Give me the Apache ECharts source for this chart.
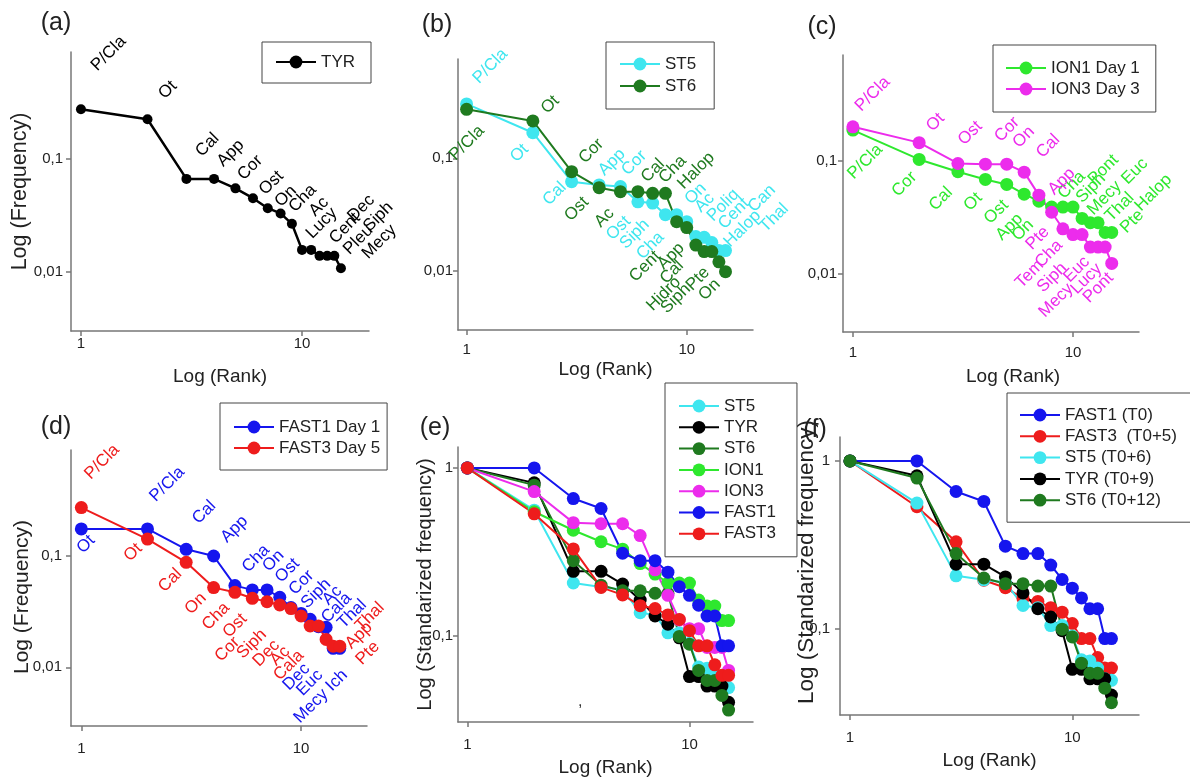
<!DOCTYPE html>
<html>
<head>
<meta charset="utf-8">
<script src="https://cdn.jsdelivr.net/npm/echarts@6/dist/echarts.min.js"></script>
<style>
  html, body { margin: 0; background: #fff; }
  #main { width: 1190px; height: 778px; }
</style>
</head>
<body>
<div id="main"></div>
<script>
// ranks 1..15 (x axis, log)
const ranks = [1, 2, 3, 4, 5, 6, 7, 8, 9, 10, 11, 12, 13, 14, 15];

// (a) TYR frequencies
const tyrFreq = [0.276, 0.225, 0.0667, 0.0667, 0.055, 0.045, 0.0367, 0.033, 0.0267, 0.0157, 0.0157, 0.0139, 0.0139, 0.0139, 0.0108];
const tyrNames = ['P/Cla', 'Ot', 'Cal', 'App', 'Cor', 'Ost', 'On', 'Cha', 'Ac', 'Lucy', 'Cent', 'Dec', 'Pleu', 'Siph', 'Mecy'];

// (b) ST5 / ST6
const st5Freq = [0.305, 0.169, 0.062, 0.058, 0.056, 0.041, 0.040, 0.0315, 0.0315, 0.0273, 0.0201, 0.0198, 0.0178, 0.0151, 0.0151];
const st5Names = ['P/Cla', 'Ot', 'Cal', 'App', 'Cor', 'Ost', 'Siph', 'Cha', 'On', 'Ac', 'Poliq', 'Cent', 'Halop', 'Can', 'Thal'];
const st6Freq = [0.273, 0.215, 0.076, 0.0548, 0.0505, 0.0505, 0.0488, 0.0488, 0.0273, 0.0242, 0.0169, 0.0148, 0.0148, 0.012, 0.0098];
const st6Names = ['P/Cla', 'Ot', 'Cor', 'Ost', 'Ac', 'Cal', 'Cha', 'Halop', 'Cent', 'App', 'Cal', 'Hidro', 'Siph', 'Pte', 'On'];

// (c) ION1 / ION3
const ion1Freq = [0.189, 0.1035, 0.0804, 0.0687, 0.062, 0.0508, 0.044, 0.039, 0.039, 0.039, 0.0309, 0.0283, 0.0283, 0.0232, 0.0232];
const ion1Names = ['P/Cla', 'Cor', 'Cal', 'Ot', 'Ost', 'App', 'On', 'Cha', 'Siph', 'Pont', 'Mecy', 'Euc', 'Thal', 'Pte', 'Halop'];
const ion3Freq = [0.202, 0.146, 0.0953, 0.094, 0.094, 0.0798, 0.0498, 0.0351, 0.025, 0.0222, 0.0222, 0.0172, 0.0172, 0.0172, 0.0123];
const ion3Names = ['P/Cla', 'Ot', 'Ost', 'Cor', 'On', 'Cal', 'App', 'Pte', 'Cha', 'Tem', 'Siph', 'Mecy', 'Euc', 'Lucy', 'Pont'];

// (d) FAST1 / FAST3
const fast1Freq = [0.175, 0.175, 0.1148, 0.100, 0.0542, 0.0496, 0.0496, 0.0426, 0.0344, 0.0305, 0.027, 0.0232, 0.0229, 0.0148, 0.0148];
const fast1Names = ['Ot', 'P/Cla', 'Cal', 'App', 'Cha', 'On', 'Ost', 'Cor', 'Siph', 'Ac', 'Cala', 'Thal', 'Dec', 'Euc', 'Mecy Ich'];
const fast3Freq = [0.272, 0.142, 0.0877, 0.052, 0.0472, 0.0417, 0.0389, 0.0363, 0.0337, 0.0289, 0.0235, 0.0235, 0.0178, 0.0155, 0.0155];
const fast3Names = ['P/Cla', 'Ot', 'Cal', 'On', 'Cha', 'Ost', 'Cor', 'Siph', 'Dec', 'Ac', 'Cala', '', 'Thal', 'App', 'Pte'];

// (e) / (f) standardized frequencies
const st5Std = [1, 0.56, 0.206, 0.195, 0.188, 0.137, 0.133, 0.104, 0.104, 0.09, 0.065, 0.064, 0.058, 0.05, 0.049];
const tyrStd = [1, 0.815, 0.242, 0.242, 0.203, 0.163, 0.131, 0.117, 0.097, 0.057, 0.057, 0.05, 0.05, 0.05, 0.04];
const st6Std = [1, 0.79, 0.28, 0.2, 0.185, 0.185, 0.179, 0.179, 0.099, 0.089, 0.062, 0.054, 0.054, 0.044, 0.036];
const ion1Std = [1, 0.548, 0.425, 0.363, 0.328, 0.269, 0.233, 0.206, 0.206, 0.206, 0.163, 0.15, 0.15, 0.123, 0.123];
const ion3Std = [1, 0.723, 0.472, 0.465, 0.465, 0.395, 0.247, 0.174, 0.124, 0.11, 0.11, 0.085, 0.085, 0.085, 0.062];
const fast1Std = [1, 1, 0.657, 0.573, 0.31, 0.28, 0.28, 0.239, 0.196, 0.174, 0.152, 0.131, 0.131, 0.087, 0.087];
const fast3Std = [1, 0.533, 0.329, 0.194, 0.175, 0.151, 0.145, 0.133, 0.125, 0.107, 0.087, 0.087, 0.067, 0.058, 0.058];

// label placement (px from the dot): 'u' = text rising up-right, 'd' = text hanging down-left
const tyrLab = [['u',9,-37],['u',10,-19],['u',8,-21],['u',2,-11],['u',1,-7],['u',5,-2],['u',6,0],['u',7,0],['u',16,-6],['u',3,-10],['u',17,-5],['u',27,-33],['u',15,0],['u',28,-23],['u',20,-8]];
const st5Lab = [['u',5,-19],['d',-5,9],['d',-6,-2],['u',-2,-8],['u',0,-10],['d',-8,12],['d',-4,14],['d',-2,15],['u',7,-9],['u',7,-8],['u',10,-14],['u',13,-7],['u',11,6],['u',28,-37],['u',33,-17]];
const st6Lab = [['d',17,14],['u',7,-6],['u',6,-7],['d',-11,7],['d',-7,14],['u',2,-8],['u',5,-9],['u',11,-3],['d',-17,27],['d',-3,13],['d',-13,13],['d',-24,23],['d',-22,30],['d',-10,3],['d',-6,5]];
const ion1Lab = [['d',29,12],['d',-3,10],['d',-6,13],['d',-4,11],['d',1,13],['d',-2,17],['d',-6,16],['u',5,-7],['u',12,-3],['u',14,-21],['u',4,-2],['u',30,-37],['u',6,0],['u',14,2],['u',22,-20]];
const ion3Lab = [['u',1,-14],['u',6,-10],['u',-1,-17],['u',8,-21],['u',5,-15],['u',11,-13],['u',8,1],['d',-3,12],['d',-1,9],['d',-30,23],['d',-16,26],['d',-18,34],['d',-9,7],['d',-4,14],['d',1,7]];
const fast1Lab = [['d',13,4],['u',1,-26],['u',5,-24],['u',6,-12],['u',6,-12],['u',9,-17],['u',7,-6],['u',8,-1],['u',9,2],['u',20,-7],['u',10,5],['u',18,3],['d',-17,34],['d',-11,19],['d',7,19]];
const fast3Lab = [['u',2,-27],['d',-6,2],['d',-5,4],['d',-8,3],['d',-6,8],['d',-6,13],['d',-28,33],['d',-14,22],['d',-12,29],['d',-12,28],['d',-7,22],['d',0,0],['u',28,-7],['u',11,4],['u',15,20]];

const FONT = 'Liberation Sans';
const AXIS = '#777';
const TXT = '#222';
const COL = {
  black: '#000000', cyan: '#3fe6ef', dkgreen: '#1f7a1f', green: '#2ee82e',
  magenta: '#ec2cec', blue: '#1515ee', red: '#ee1c1c'
};

function points(vals, names, labs, r) {
  return vals.map(function (v, i) {
    const it = { value: [Math.log10(ranks[i]), Math.log10(v)] };
    if (names) {
      const up = labs[i][0] === 'u';
      const dx = labs[i][1], dy = labs[i][2];
      it.name = names[i];
      it.label = {
        position: up ? [dx + 10 + r, dy + 2 + r] : [dx - 8 + r, dy - 1 + r],
        align: up ? 'left' : 'right',
        verticalAlign: up ? 'bottom' : 'top'
      };
    }
    return it;
  });
}

function line(g, name, color, vals, names, labs, size, width) {
  size = size || 13;
  return {
    type: 'line', name: name, xAxisIndex: g, yAxisIndex: g,
    data: points(vals, names, labs, size / 2),
    symbol: 'circle', symbolSize: size,
    lineStyle: { color: color, width: width || 2 },
    itemStyle: { color: color },
    label: { show: !!names, formatter: '{b}', rotate: 45, fontSize: 17, fontFamily: FONT, color: color },
    emphasis: { disabled: true },
    animation: false
  };
}

function xAx(g, min, max, margin, name, gap, pad) {
  return {
    type: 'value', gridIndex: g, min: min, max: max,
    name: name || '', nameLocation: 'middle', nameGap: gap || 30,
    nameTextStyle: { fontSize: 19, color: TXT, fontFamily: FONT, padding: pad || 0 },
    axisLine: { show: true, onZero: false, lineStyle: { color: AXIS, width: 1.5 } },
    axisTick: { show: true, length: 5, customValues: [0, 1], lineStyle: { color: AXIS, width: 1.5 } },
    axisLabel: {
      customValues: [0, 1], margin: margin, fontSize: 15, color: TXT, fontFamily: FONT,
      formatter: function (v) { return String(Math.round(Math.pow(10, v))); }
    },
    splitLine: { show: false }
  };
}

function yAx(g, min, max, ticks, margin, name, gap, fs, pad) {
  return {
    type: 'value', gridIndex: g, min: min, max: max,
    name: name || '', nameLocation: 'middle', nameGap: gap || 30, nameMoveOverlap: false,
    nameTextStyle: { fontSize: fs || 20, color: TXT, fontFamily: FONT, padding: pad || 0 },
    axisLine: { show: true, onZero: false, lineStyle: { color: AXIS, width: 1.5 } },
    axisTick: { show: true, length: 5, customValues: ticks, lineStyle: { color: AXIS, width: 1.5 } },
    axisLabel: {
      customValues: ticks, margin: margin, fontSize: 15, color: TXT, fontFamily: FONT,
      formatter: function (v) {
        const p = Math.round(v);
        return p === 0 ? '1' : (p === -1 ? '0,1' : '0,01');
      }
    },
    splitLine: { show: false }
  };
}

function legend(names, left, top, pad, gap) {
  return {
    data: names, orient: 'vertical', left: left, top: top, padding: pad,
    itemWidth: 40, itemHeight: 16, itemGap: gap, selectedMode: false,
    borderColor: '#444', borderWidth: 1, borderRadius: 0,
    textStyle: { fontSize: 17, color: TXT, fontFamily: FONT }
  };
}

function letter(t, x, y) {
  return { type: 'text', x: x, y: y, style: { text: t, fontSize: 25, fontFamily: FONT, fill: '#222', align: 'center', verticalAlign: 'middle' } };
}

const chart = echarts.init(document.getElementById('main'));

const fNames = ['FAST1 (T0)', 'FAST3  (T0+5)', 'ST5 (T0+6)', 'TYR (T0+9)', 'ST6 (T0+12)'];

const option = {
  animation: false,
  textStyle: { fontFamily: FONT },
  grid: [
    { left: 71, top: 52, width: 298, height: 279 },
    { left: 458, top: 59, width: 295, height: 271 },
    { left: 843, top: 55, width: 296, height: 277 },
    { left: 71, top: 450, width: 296, height: 276 },
    { left: 458, top: 447, width: 295, height: 276 },
    { left: 840, top: 437, width: 299, height: 278 }
  ],
  xAxis: [
    xAx(0, -0.045, 1.303, 5, 'Log (Rank)', 36),
    xAx(1, -0.039, 1.301, 12, 'Log (Rank)', 30),
    xAx(2, -0.045, 1.30, 13, 'Log (Rank)', 35, [0, 0, 0, 44]),
    xAx(3, -0.047, 1.30, 15),
    xAx(4, -0.042, 1.286, 15, 'Log (Rank)', 36),
    xAx(5, -0.045, 1.30, 15, 'Log (Rank)', 36)
  ],
  yAxis: [
    yAx(0, -2.522, -0.053, [-2, -1], 8, 'Log (Frequency)', 40, 21.5),
    yAx(1, -2.528, -0.116, [-2, -1], 5),
    yAx(2, -2.52, -0.056, [-2, -1], 6),
    yAx(3, -2.527, -0.048, [-2, -1], 9, 'Log (Frequency)', 38, 21, [0, 18, 0, 0]),
    yAx(4, -1.515, 0.125, [-1, 0], 5, 'Log (Standarized frequency)', 23, 20),
    yAx(5, -1.517, 0.143, [-1, 0], 10, 'Log (Standarized frequency)', 22, 22.5, [0, 0, 0, 28])
  ],
  legend: [
    legend(['TYR'], 262, 42, [11.5, 16, 12.5, 13], 5),
    legend(['ST5', 'ST6'], 606, 42, [13.5, 18, 14.5, 13], 5),
    legend(['ION1 Day 1', 'ION3 Day 3'], 993, 45, [14.5, 16, 14.5, 12], 4),
    legend(['FAST1 Day 1', 'FAST3 Day 5'], 220, 403, [15.5, 7, 13.5, 13], 4),
    legend(['ST5', 'TYR', 'ST6', 'ION1', 'ION3', 'FAST1', 'FAST3'], 665, 383, [14.5, 21, 14.5, 13], 4.3),
    legend(fNames, 1007, 393, [13.5, 15, 13.5, 12], 4.3)
  ],
  graphic: [
    letter('(a)', 56, 23), letter('(b)', 437, 25), letter('(c)', 822, 27),
    letter('(d)', 56, 427), letter('(e)', 435, 428), letter('(f)', 815, 430),
    { type: 'text', x: 578, y: 694, style: { text: ',', fontSize: 16, fontFamily: FONT, fill: '#333' } }
  ],
  series: [
    line(0, 'TYR', COL.black, tyrFreq, tyrNames, tyrLab, 10, 2.5),

    line(1, 'ST5', COL.cyan, st5Freq, st5Names, st5Lab),
    line(1, 'ST6', COL.dkgreen, st6Freq, st6Names, st6Lab),

    line(2, 'ION1 Day 1', COL.green, ion1Freq, ion1Names, ion1Lab),
    line(2, 'ION3 Day 3', COL.magenta, ion3Freq, ion3Names, ion3Lab),

    line(3, 'FAST1 Day 1', COL.blue, fast1Freq, fast1Names, fast1Lab),
    line(3, 'FAST3 Day 5', COL.red, fast3Freq, fast3Names, fast3Lab),

    line(4, 'ST5', COL.cyan, st5Std),
    line(4, 'TYR', COL.black, tyrStd),
    line(4, 'ST6', COL.dkgreen, st6Std),
    line(4, 'ION1', COL.green, ion1Std),
    line(4, 'ION3', COL.magenta, ion3Std),
    line(4, 'FAST1', COL.blue, fast1Std),
    line(4, 'FAST3', COL.red, fast3Std),

    line(5, fNames[0], COL.blue, fast1Std),
    line(5, fNames[1], COL.red, fast3Std),
    line(5, fNames[2], COL.cyan, st5Std),
    line(5, fNames[3], COL.black, tyrStd),
    line(5, fNames[4], COL.dkgreen, st6Std)
  ]
};

chart.setOption(option);
</script>
</body>
</html>
